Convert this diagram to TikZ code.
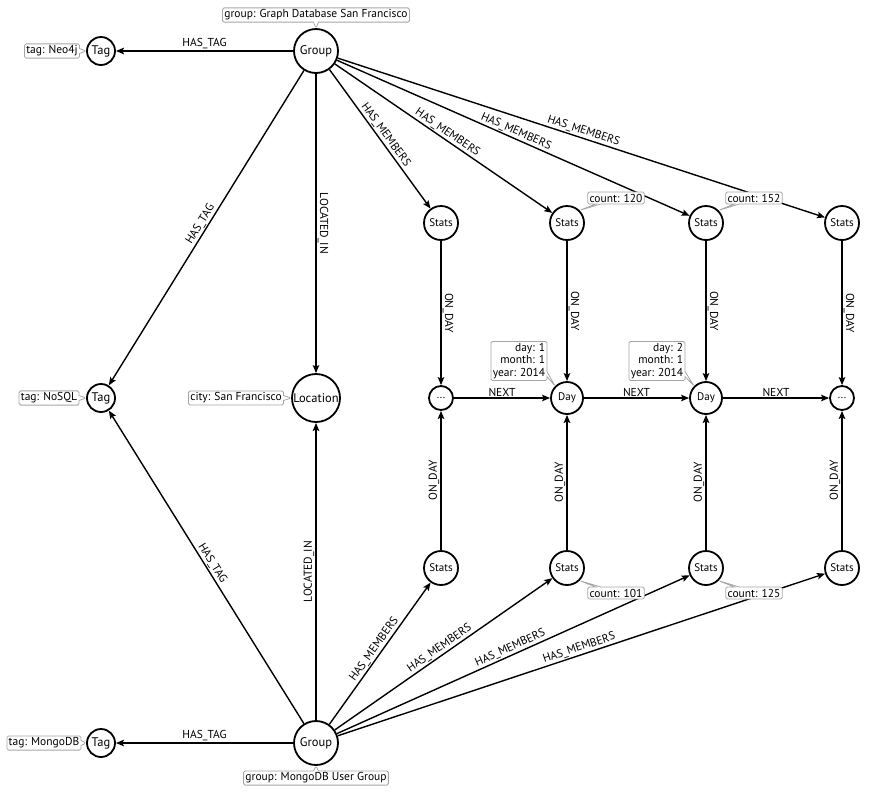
\documentclass[tikz,border=0pt]{standalone}
\usepackage{fontspec}
\setmainfont{PT Sans}
\usetikzlibrary{arrows.meta,shapes.callouts}

\tikzset{
  ent/.style={circle, draw, line width=1.8pt, inner sep=0pt, font=\fontsize{12.5}{14}\selectfont},
  small ent/.style={ent, font=\fontsize{11}{12}\selectfont},
  rel/.style={line width=1.4pt, -{Stealth[length=8pt,width=6.5pt,inset=1.5pt]}},
  lbl/.style={font=\fontsize{11.5}{12}\selectfont, inner sep=1pt},
  prop/.style={rectangle callout, draw=gray!70, line width=0.8pt, rounded corners=1.5pt,
    fill=white, inner sep=1.8pt, font=\fontsize{11.5}{12.5}\selectfont, callout pointer width=5pt},
}

\begin{document}
\begin{tikzpicture}[x=1pt,y=-1pt]
  \useasboundingbox (0,0) rectangle (869,793);

  % Groups and location
  \node[ent, minimum size=44pt] (grp1) at (316,51) {Group};
  \node[ent, minimum size=44pt] (grp2) at (316,743) {Group};
  \node[ent, minimum size=48pt] (loc) at (316,398) {Location};

  % Tags
  \node[ent, minimum size=28pt] (tag1) at (101,51) {Tag};
  \node[ent, minimum size=28pt] (tag2) at (101,398) {Tag};
  \node[ent, minimum size=28pt] (tag3) at (101,743) {Tag};

  % Stats rows
  \foreach \i/\x in {1/441,2/567,3/706,4/842} {
    \node[small ent, minimum size=34pt] (st\i) at (\x,223) {Stats};
    \node[small ent, minimum size=34pt] (sb\i) at (\x,568) {Stats};
  }

  % Days
  \node[small ent, minimum size=24pt] (d1) at (441,398) {...};
  \node[small ent, minimum size=32pt] (d2) at (567,398) {Day};
  \node[small ent, minimum size=32pt] (d3) at (706,398) {Day};
  \node[small ent, minimum size=24pt] (d4) at (842,398) {...};

  % Relations of the first group
  \draw[rel] (grp1) -- node[lbl, above] {HAS\_TAG} (tag1);
  \draw[rel] (grp1) -- node[lbl, sloped, above] {HAS\_TAG} (tag2);
  \draw[rel] (grp1) -- node[lbl, sloped, above] {LOCATED\_IN} (loc);
  \foreach \i in {1,...,4}
    \draw[rel] (grp1) -- node[lbl, sloped, above] {HAS\_MEMBERS} (st\i);

  % Relations of the second group
  \draw[rel] (grp2) -- node[lbl, above] {HAS\_TAG} (tag3);
  \draw[rel] (grp2) -- node[lbl, sloped, above] {HAS\_TAG} (tag2);
  \draw[rel] (grp2) -- node[lbl, sloped, above] {LOCATED\_IN} (loc);
  \foreach \i in {1,...,4}
    \draw[rel] (grp2) -- node[lbl, sloped, above] {HAS\_MEMBERS} (sb\i);

  % Stats to days
  \foreach \i in {1,...,4} {
    \draw[rel] (st\i) -- node[lbl, sloped, above] {ON\_DAY} (d\i);
    \draw[rel] (sb\i) -- node[lbl, sloped, above] {ON\_DAY} (d\i);
  }

  % Day chain
  \draw[rel] (d1) -- node[lbl, above] {NEXT} (d2);
  \draw[rel] (d2) -- node[lbl, above] {NEXT} (d3);
  \draw[rel] (d3) -- node[lbl, above] {NEXT} (d4);

  % Properties
  \node[prop, callout absolute pointer={(grp1.north)}] at (316,15) {group: Graph Database San Francisco};
  \node[prop, callout absolute pointer={(grp2.south)}] at (316,778) {group: MongoDB User Group};
  \node[prop, callout absolute pointer={(tag1.west)}] at (52,51) {tag: Neo4j};
  \node[prop, callout absolute pointer={(tag2.west)}] at (49,398) {tag: NoSQL};
  \node[prop, callout absolute pointer={(tag3.west)}] at (44,743) {tag: MongoDB};
  \node[prop, callout absolute pointer={(loc.west)}] at (236,398) {city: San Francisco};
  \node[prop, callout absolute pointer={(st2.north east)}] at (616,198) {count: 120};
  \node[prop, callout absolute pointer={(st3.north east)}] at (754,198) {count: 152};
  \node[prop, callout absolute pointer={(sb2.south east)}] at (616,593) {count: 101};
  \node[prop, callout absolute pointer={(sb3.south east)}] at (754,593) {count: 125};
  \node[prop, align=right, callout absolute pointer={(d2.north west)}] at (519,361) {day: 1\\month: 1\\year: 2014};
  \node[prop, align=right, callout absolute pointer={(d3.north west)}] at (657,361) {day: 2\\month: 1\\year: 2014};
\end{tikzpicture}
\end{document}
